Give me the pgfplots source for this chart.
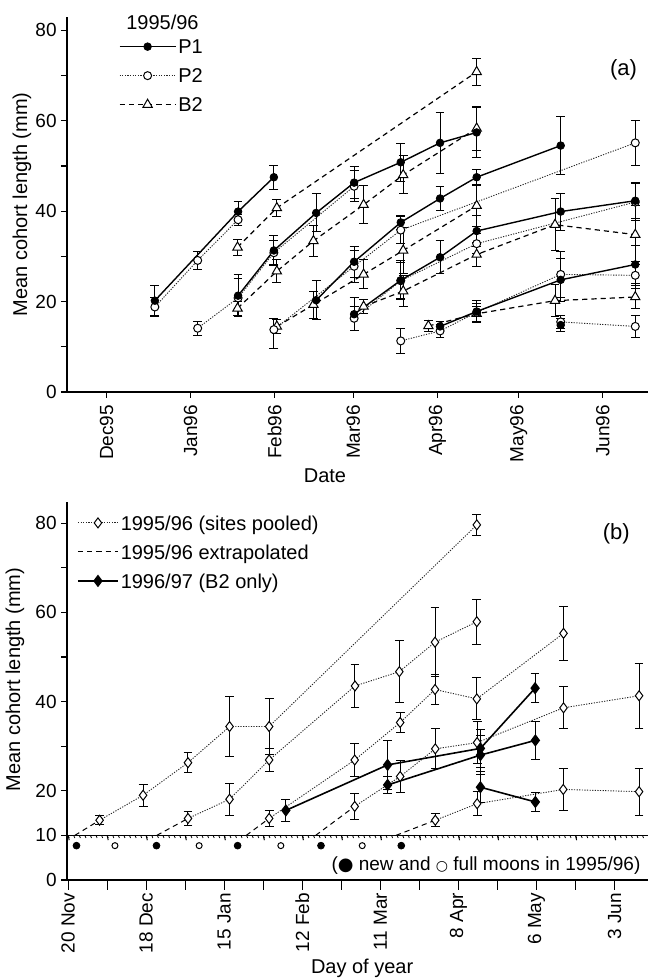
\documentclass[border=0pt]{standalone}
\usepackage{fontspec}
\setmainfont{Liberation Sans}
\setsansfont{Liberation Sans}
\newfontfamily\symfont{DejaVu Sans}
\usepackage{pgfplots}
\pgfplotsset{compat=1.18}

\pgfplotsset{
  base/.style={
    scale only axis, width=290.5pt, clip=false,
    axis lines*=left, axis line style={line width=0.6pt},
    tick align=outside, tick style={black, line width=0.6pt},
    major tick length=3pt, minor tick length=3pt,
    font=\fontsize{10}{12}\selectfont,
    tick label style={font=\fontsize{9.5}{11}\selectfont},
    yticklabel style={inner sep=2pt},
    /pgf/number format/assume math mode=true,
    xticklabel style={rotate=90, anchor=east},
    legend cell align=left,
    legend style={draw=none, fill=none, inner sep=0pt, row sep=5.3pt,
      nodes={inner sep=1pt, text height=7.2pt, text depth=0pt},
      /tikz/every even column/.append style={column sep=4pt}},
  },
  eb/.style={error bars/y dir=both, error bars/y explicit,
    error bars/error bar style={solid, line width=0.5pt, black},
    error bars/error mark options={solid, rotate=90, line width=0.5pt, black, mark size=2.2pt}},
  p1/.style={black, line width=0.7pt, mark=*, mark size=1.9pt,
    mark options={solid, fill=black, line width=0.4pt}},
  p2/.style={black!85, line width=0.45pt, dash pattern=on 0.6pt off 0.7pt, mark=*, mark size=2pt,
    mark options={solid, fill=white, draw=black, line width=0.5pt}},
  b2/.style={black, line width=0.6pt, dash pattern=on 2.6pt off 2pt, mark=triangle*, mark size=2.7pt,
    mark options={solid, fill=white, line width=0.5pt}},
  pool/.style={black!85, line width=0.45pt, dash pattern=on 0.6pt off 0.7pt, mark=diamond*, mark size=2.5pt,
    mark options={solid, fill=white, draw=black, line width=0.5pt}},
  ext/.style={black, line width=0.5pt, dash pattern=on 2.6pt off 2pt},
  y97/.style={black, line width=0.8pt, mark=diamond*, mark size=2.5pt,
    mark options={solid, fill=black}},
}

\begin{document}
\begin{tikzpicture}
\useasboundingbox (0,0) rectangle (325pt,489pt);

% ---------------- panel (a) ----------------
\begin{axis}[base, at={(33.5pt,293pt)}, anchor=south west, height=187.65pt,
  xmin=-14.6, xmax=199.7, ymin=0, ymax=83,
  xtick={0,31,62,91,122,152,183},
  xticklabels={Dec95,Jan96,Feb96,Mar96,Apr96,May96,Jun96},
  ytick={0,20,40,60,80}, minor ytick={10,30,50,70},
  xlabel={Date}, ylabel={Mean cohort length (mm)},
  xlabel style={at={(axis description cs:0.444,0)}, anchor=north, yshift=-34.7pt},
  ylabel style={at={(axis description cs:-0.0775,0.5)}, anchor=center},
  legend image code/.code={\draw[mark repeat=2,mark phase=2,#1] plot coordinates {(0pt,0pt) (14pt,0pt) (28pt,0pt)};},
  legend style={at={(axis cs:4.4,78.5)}, anchor=north west},
]
\addlegendimage{p1}\addlegendentry{P1}
\addlegendimage{p2}\addlegendentry{P2}
\addlegendimage{b2}\addlegendentry{B2}

% B2 cohorts
\addplot[b2, eb, forget plot] coordinates {(48.3,32) +- (0,1.8) (62.8,40.7) +- (0,1.9) (136.5,70.8) +- (0,3)};
\addplot[b2, eb, forget plot] coordinates {(48.3,18.5) +- (0,1.6) (62.8,26.7) +- (0,2.5) (76.3,33.4) +- (0,3.4) (94.8,41.4) +- (0,4.2) (109.4,48) +- (0,4.2) (136.5,58.3) +- (0,4.8)};
\addplot[b2, eb, forget plot] coordinates {(62.8,14.5) +- (0,1.6) (76.3,19.3) +- (0,3) (94.8,26) +- (0,3.2) (109.4,31.3) +- (0,5) (136.5,41.2) +- (0,4.5)};
\addplot[b2, eb, forget plot] coordinates {(94.8,18.9) +- (0,1.5) (109.4,22.3) +- (0,3.5) (136.5,30.4) +- (0,2.6) (165.4,37) +- (0,5.7) (195,34.8) +- (0,6.5)};
\addplot[b2, eb, forget plot] coordinates {(118.7,14.6) +- (0,1.2) (136.5,17.3) +- (0,1.6) (165.4,20.2) +- (0,3.6) (195,21) +- (0,2.6)};

% P2 cohorts
\addplot[p2, eb, forget plot] coordinates {(17.8,18.8) +- (0,2.2) (33.6,29.1) +- (0,1.9) (48.5,38.1) +- (0,1.2)};
\addplot[p2, eb, forget plot] coordinates {(33.6,14.1) +- (0,1.5) (48.5,20.8) +- (0,4.2) (61.7,30.8) +- (0,2.6) (91.3,45.5) +- (0,3.4)};
\addplot[p2, eb, forget plot] coordinates {(61.7,13.8) += (0,2.4) -= (0,4.1) (91.3,27.8) +- (0,3.6) (108.5,35.8) +- (0,3) (195,55.1) +- (0,5)};
\addplot[p2, eb, forget plot] coordinates {(91.3,16.3) +- (0,2.6) (108.5,24.6) +- (0,4) (136.5,32.8) +- (0,2.2) (195,42) +- (0,4)};
\addplot[p2, eb, forget plot] coordinates {(108.5,11.3) +- (0,2.7) (123,13.5) +- (0,1.5) (136.5,17.6) +- (0,2) (167.5,26) +- (0,5) (195,25.8) +- (0,3)};
\addplot[p2, eb, forget plot] coordinates {(167.5,15.5) +- (0,1.5) (195,14.5) +- (0,2.5)};

% P1 cohorts
\addplot[p1, eb, forget plot] coordinates {(17.8,20.2) +- (0,3.3) (48.5,39.9) +- (0,2.3) (61.7,47.5) +- (0,2.7)};
\addplot[p1, eb, forget plot] coordinates {(48.5,21.3) +- (0,4.6) (61.7,31.3) +- (0,3.3) (77.3,39.6) +- (0,4.2) (91.3,46.3) +- (0,3.5) (108.5,50.8) +- (0,4.2) (123,55.1) +- (0,6.7) (136.5,57.4) +- (0,5.5)};
\addplot[p1, eb, forget plot] coordinates {(77.3,20.3) +- (0,4.3) (91.3,28.8) +- (0,3.4) (108.5,37.5) +- (0,1.5) (123,42.8) +- (0,2.7) (136.5,47.5) +- (0,1.6) (167.5,54.5) +- (0,6.5)};
\addplot[p1, eb, forget plot] coordinates {(91.3,17.2) +- (0,3.6) (108.5,24.7) +- (0,4.3) (123,29.8) +- (0,3.6) (136.5,35.6) +- (0,3.5) (167.5,39.9) +- (0,4.1) (195,42.3) +- (0,4)};
\addplot[p1, eb, forget plot] coordinates {(123,14.5) +- (0,1.2) (136.5,17.8) +- (0,2.4) (167.5,24.8) +- (0,4.8) (195,28.2) +- (0,4.2)};
\addplot[p1, eb, forget plot] coordinates {(167.5,14.8) +- (0,1.5)};

\node[anchor=center] at (axis cs:20.6,81.8) {1995/96};
\node[anchor=center, font=\fontsize{11}{13}\selectfont] at (axis cs:190.7,71.2) {(a)};
\end{axis}

% ---------------- panel (b) ----------------
\begin{axis}[base, at={(33.5pt,49pt)}, anchor=south west, height=189.15pt,
  xmin=-0.4, xmax=208, ymin=0, ymax=84.8,
  xtick={0,14,...,196},
  xticklabels={20 Nov,,18 Dec,,15 Jan,,12 Feb,,11 Mar,,8 Apr,,6 May,,3 Jun},
  xtick style={/pgfplots/major tick length=5pt},
  ytick={0,10,20,40,60,80}, minor ytick={30,50,70},
  xlabel={Day of year}, ylabel={Mean cohort length (mm)},
  xlabel style={at={(axis description cs:0.508,0)}, anchor=north, yshift=-36.2pt},
  ylabel style={at={(axis description cs:-0.0895,0.53)}, anchor=center},
  legend image code/.code={\draw[mark repeat=2,mark phase=2,#1] plot coordinates {(0pt,0pt) (10pt,0pt) (20pt,0pt)};},
  legend style={at={(axis cs:3.1,82.2)}, anchor=north west},
]
\addlegendimage{pool}\addlegendentry{1995/96 (sites pooled)}
\addlegendimage{ext}\addlegendentry{1995/96 extrapolated}
\addlegendimage{y97}\addlegendentry{1996/97 (B2 only)}

% reference line at 10 mm with day ticks
\draw[line width=0.5pt] (axis cs:-0.4,10) -- (axis cs:208,10);
\pgfplotsinvokeforeach{0,2,...,206}{\draw[line width=0.4pt] (axis cs:#1,10) -- ++(0,-1.3pt);}
\pgfplotsinvokeforeach{0,14,...,196}{\draw[line width=0.5pt] (axis cs:#1,10) -- ++(0,-2.4pt);}

% extrapolated starts
\addplot[ext, forget plot] coordinates {(2.4,10) (11.3,13.4)};
\addplot[ext, forget plot] coordinates {(31.8,10) (43,13.8)};
\addplot[ext, forget plot] coordinates {(63.9,10) (72.1,13.8)};
\addplot[ext, forget plot] coordinates {(88.8,10) (102.8,16.5)};
\addplot[ext, forget plot] coordinates {(117.6,10) (131.7,13.4)};

% 1995/96 sites pooled
\addplot[pool, eb, forget plot] coordinates {(11.3,13.4) +- (0,1) (26.9,19) +- (0,2.5) (43,26.3) +- (0,2.2) (57.9,34.4) +- (0,6.8) (72.1,34.4) +- (0,6.3) (146.6,79.6) +- (0,2.4)};
\addplot[pool, eb, forget plot] coordinates {(43,13.8) +- (0,1.5) (57.9,18.1) +- (0,3.6) (72.1,26.9) +- (0,2.5) (102.9,43.5) +- (0,4.9) (118.8,46.7) +- (0,6.9) (131.6,53.3) +- (0,7.7) (146.6,57.9) +- (0,5)};
\addplot[pool, eb, forget plot] coordinates {(72.1,13.8) +- (0,1.8) (102.8,26.9) +- (0,3.6) (119.1,35.3) +- (0,2.3) (131.6,42.7) +- (0,3.3) (146.6,40.6) +- (0,4.7) (177.7,55.3) +- (0,6.1)};
\addplot[pool, eb, forget plot] coordinates {(102.8,16.5) +- (0,3) (119.1,23.2) +- (0,3.6) (131.7,29.4) +- (0,4.5) (146.7,30.8) +- (0,4.7) (177.7,38.6) +- (0,4.7) (204.8,41.3) +- (0,7.3)};
\addplot[pool, eb, forget plot] coordinates {(131.7,13.4) +- (0,1.5) (146.7,17.1) +- (0,2.7) (177.6,20.3) +- (0,4.7) (204.8,19.8) +- (0,5.3)};

% 1996/97 B2 only
\addplot[y97, eb, forget plot] coordinates {(78.1,15.6) +- (0,2.5) (114.6,25.8) +- (0,5.5) (147.9,29.5) +- (0,4.2) (167.5,43) +- (0,3.2)};
\addplot[y97, eb, forget plot] coordinates {(114.6,21.3) +- (0,2) (147.9,28) +- (0,4.3) (167.6,31.3) +- (0,4.3)};
\addplot[y97, eb, forget plot] coordinates {(147.9,20.8) +- (0,3.5) (167.6,17.5) +- (0,2.2)};

% moon phases 1995/96
\addplot[only marks, mark=*, mark size=1.7pt, black, forget plot] coordinates {(3,7.7) (31.7,7.7) (60.8,7.7) (90.7,7.7) (119.5,7.7)};
\addplot[only marks, mark=*, mark size=1.5pt, black, mark options={fill=white, line width=0.5pt}, forget plot] coordinates {(16.8,7.7) (47,7.7) (76.3,7.7) (105.5,7.7)};

\node[anchor=east, font=\fontsize{9.5}{11}\selectfont] at (axis cs:207.8,3.3)
  {({\symfont\fontsize{9}{10}\selectfont ●} new and {\symfont\fontsize{7}{8}\selectfont ○} full moons in 1995/96)};
\node[anchor=center, font=\fontsize{11}{13}\selectfont] at (axis cs:196.6,77.6) {(b)};
\end{axis}
\end{tikzpicture}
\end{document}
